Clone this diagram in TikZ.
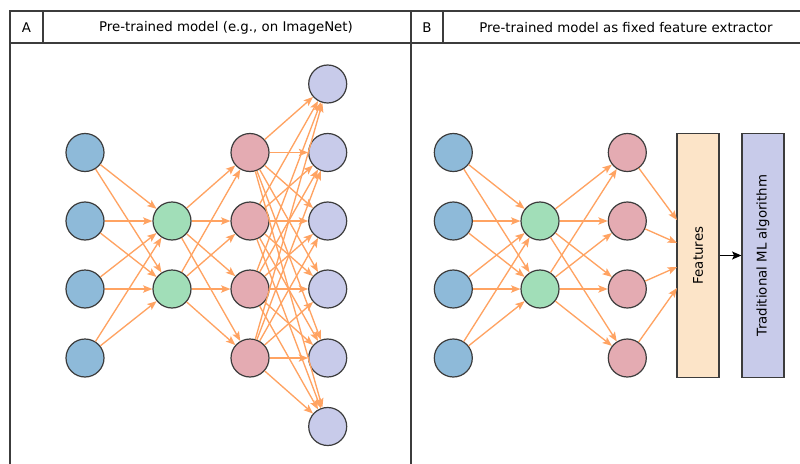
\documentclass[tikz,border=0pt]{standalone}
\usepackage{fontspec}
\setmainfont{DejaVu Sans}
\usetikzlibrary{arrows.meta}

\definecolor{inblue}{RGB}{142,186,217}
\definecolor{hidgreen}{RGB}{161,222,184}
\definecolor{redpink}{RGB}{228,171,178}
\definecolor{lavender}{RGB}{200,203,234}
\definecolor{featorange}{RGB}{252,228,200}
\definecolor{linkorange}{RGB}{255,163,98}
\definecolor{frame}{RGB}{60,60,60}

\begin{document}
\begin{tikzpicture}[x=0.75pt,y=-0.75pt,
  neuron/.style={circle,draw=frame,line width=0.9pt,minimum size=28.5pt,inner sep=0pt},
  inneuron/.style={neuron,fill=inblue},
  hidneuron/.style={neuron,fill=hidgreen},
  redneuron/.style={neuron,fill=redpink},
  outneuron/.style={neuron,fill=lavender},
  link/.style={draw=linkorange,line width=1pt,
    -{Stealth[length=7pt,width=5.5pt,inset=1.5pt,fill=linkorange]}},
  tallbox/.style={draw=frame,line width=0.9pt,rotate=90,minimum width=183pt,
    minimum height=31.5pt,inner sep=0pt},
  headtext/.style={font=\fontsize{10}{12}\selectfont},
  boxtext/.style={font=\fontsize{10}{12}\selectfont}]

\useasboundingbox (0,0) rectangle (800,464);
\clip (0,0) rectangle (800,464);
\fill[white] (0,0) rectangle (800,464);

% frame of the two panels with their header rows
\draw[frame,line width=0.9pt] (10,11) rectangle (809,480);
\draw[frame,line width=0.9pt] (10,43) -- (809,43);
\draw[frame,line width=0.9pt] (411,11) -- (411,480);
\draw[frame,line width=0.9pt] (43,11) -- (43,43);
\draw[frame,line width=0.9pt] (443,11) -- (443,43);

\node[headtext] (labA) at (26.5,27.5) {A};
\node[headtext] (titA) at (226,27.5) {Pre-trained model (e.g., on ImageNet)};
\node[headtext] (labB) at (427,27.5) {B};
\node[headtext] (titB) at (626,27.5) {Pre-trained model as fixed feature extractor};

% ---------- panel A: full network ----------
\foreach \i/\y in {1/152.5,2/221,3/289,4/358}{
  \node[inneuron] (a-in\i) at (85,\y) {};
  \node[redneuron] (a-red\i) at (250,\y) {};
}
\node[hidneuron] (a-hid1) at (172,221) {};
\node[hidneuron] (a-hid2) at (172,289) {};
\foreach \i/\y in {1/84,2/152.5,3/221,4/289,5/358,6/426.5}{
  \node[outneuron] (a-out\i) at (327.7,\y) {};
}

\foreach \i in {1,...,4}{
  \foreach \j in {1,2}{
    \draw[link] (a-in\i) -- (a-hid\j);
    \draw[link] (a-hid\j) -- (a-red\i);
  }
  \foreach \k in {1,...,6}{
    \draw[link] (a-red\i) -- (a-out\k);
  }
}

% ---------- panel B: frozen network feeding a classic learner ----------
\foreach \i/\y in {1/152.5,2/221,3/289,4/358}{
  \node[inneuron] (b-in\i) at (453.3,\y) {};
  \node[redneuron] (b-red\i) at (627.3,\y) {};
}
\node[hidneuron] (b-hid1) at (540,221) {};
\node[hidneuron] (b-hid2) at (540,289) {};

\node[tallbox,fill=featorange,boxtext] (b-feat) at (698,255.5) {Features};
\node[tallbox,fill=lavender,boxtext] (b-alg) at (763,255.5) {Traditional ML algorithm};

\foreach \i in {1,...,4}{
  \foreach \j in {1,2}{
    \draw[link] (b-in\i) -- (b-hid\j);
    \draw[link] (b-hid\j) -- (b-red\i);
  }
}

\coordinate (fin1) at (677,220);
\coordinate (fin2) at (677,243);
\coordinate (fin3) at (677,267);
\coordinate (fin4) at (677,288);
\foreach \i in {1,...,4}{
  \draw[link] (b-red\i) -- (fin\i);
}

\draw[black,line width=0.9pt,-{Stealth[length=7pt,width=6pt,inset=1.5pt]}]
  (b-feat) -- (b-alg);

\end{tikzpicture}
\end{document}
